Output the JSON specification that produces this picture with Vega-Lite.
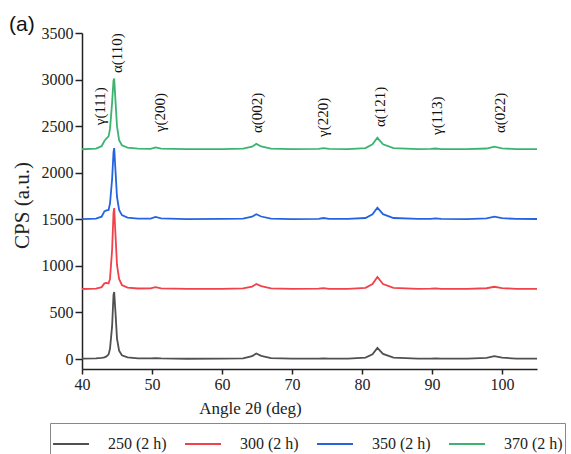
{
  "$schema": "https://vega.github.io/schema/vega-lite/v6.json",
  "autosize": {"type": "none"},
  "padding": {"left": 82, "top": 33, "right": 34, "bottom": 85},
  "width": 455,
  "height": 336,
  "background": "white",
  "title": {"text": "(a)", "anchor": "start", "frame": "group", "font": "Liberation Sans", "fontSize": 21, "fontWeight": "normal", "color": "#111", "baseline": "alphabetic", "dx": -73, "dy": 29, "offset": 2},
  "config": {
    "view": {"stroke": null},
    "axis": {"labelFont": "Liberation Serif", "labelFontSize": 16, "labelColor": "#222", "titleFont": "Liberation Serif", "titleFontWeight": "normal", "titleColor": "#222", "domainColor": "#222", "domainWidth": 1.5, "tickColor": "#222", "tickWidth": 1.5, "grid": false},
    "legend": {"strokeColor": "#888"}
  },
  "datasets": {
    "xrd": [
      {"angle": 40, "250 (2 h)": 5, "300 (2 h)": 752, "350 (2 h)": 1502, "370 (2 h)": 2252},
      {"angle": 42, "250 (2 h)": 8, "300 (2 h)": 756, "350 (2 h)": 1507, "370 (2 h)": 2258},
      {"angle": 42.8, "250 (2 h)": 12, "300 (2 h)": 772, "350 (2 h)": 1528, "370 (2 h)": 2285},
      {"angle": 43.2, "250 (2 h)": 18, "300 (2 h)": 812, "350 (2 h)": 1585, "370 (2 h)": 2340},
      {"angle": 43.5, "250 (2 h)": 28, "300 (2 h)": 818, "350 (2 h)": 1595, "370 (2 h)": 2370},
      {"angle": 43.8, "250 (2 h)": 50, "300 (2 h)": 812, "350 (2 h)": 1600, "370 (2 h)": 2390},
      {"angle": 44, "250 (2 h)": 110, "300 (2 h)": 860, "350 (2 h)": 1670, "370 (2 h)": 2470},
      {"angle": 44.3, "250 (2 h)": 350, "300 (2 h)": 1170, "350 (2 h)": 1930, "370 (2 h)": 2750},
      {"angle": 44.5, "250 (2 h)": 690, "300 (2 h)": 1570, "350 (2 h)": 2220, "370 (2 h)": 2990},
      {"angle": 44.6, "250 (2 h)": 720, "300 (2 h)": 1620, "350 (2 h)": 2265, "370 (2 h)": 3010},
      {"angle": 44.8, "250 (2 h)": 480, "300 (2 h)": 1310, "350 (2 h)": 2000, "370 (2 h)": 2750},
      {"angle": 45, "250 (2 h)": 220, "300 (2 h)": 1010, "350 (2 h)": 1740, "370 (2 h)": 2500},
      {"angle": 45.3, "250 (2 h)": 90, "300 (2 h)": 860, "350 (2 h)": 1600, "370 (2 h)": 2350},
      {"angle": 45.7, "250 (2 h)": 40, "300 (2 h)": 795, "350 (2 h)": 1545, "370 (2 h)": 2295},
      {"angle": 46.5, "250 (2 h)": 18, "300 (2 h)": 766, "350 (2 h)": 1518, "370 (2 h)": 2270},
      {"angle": 48, "250 (2 h)": 8, "300 (2 h)": 757, "350 (2 h)": 1508, "370 (2 h)": 2258},
      {"angle": 49.8, "250 (2 h)": 6, "300 (2 h)": 758, "350 (2 h)": 1507, "370 (2 h)": 2257},
      {"angle": 50.5, "250 (2 h)": 10, "300 (2 h)": 772, "350 (2 h)": 1525, "370 (2 h)": 2272},
      {"angle": 51.3, "250 (2 h)": 6, "300 (2 h)": 759, "350 (2 h)": 1509, "370 (2 h)": 2258},
      {"angle": 55, "250 (2 h)": 3, "300 (2 h)": 753, "350 (2 h)": 1503, "370 (2 h)": 2253},
      {"angle": 60, "250 (2 h)": 4, "300 (2 h)": 754, "350 (2 h)": 1504, "370 (2 h)": 2254},
      {"angle": 63, "250 (2 h)": 8, "300 (2 h)": 758, "350 (2 h)": 1508, "370 (2 h)": 2258},
      {"angle": 64.3, "250 (2 h)": 30, "300 (2 h)": 778, "350 (2 h)": 1528, "370 (2 h)": 2280},
      {"angle": 64.9, "250 (2 h)": 60, "300 (2 h)": 805, "350 (2 h)": 1555, "370 (2 h)": 2310},
      {"angle": 65.6, "250 (2 h)": 35, "300 (2 h)": 782, "350 (2 h)": 1530, "370 (2 h)": 2282},
      {"angle": 67, "250 (2 h)": 10, "300 (2 h)": 759, "350 (2 h)": 1508, "370 (2 h)": 2258},
      {"angle": 70, "250 (2 h)": 4, "300 (2 h)": 753, "350 (2 h)": 1503, "370 (2 h)": 2253},
      {"angle": 73.8, "250 (2 h)": 4, "300 (2 h)": 755, "350 (2 h)": 1505, "370 (2 h)": 2255},
      {"angle": 74.5, "250 (2 h)": 8, "300 (2 h)": 762, "350 (2 h)": 1514, "370 (2 h)": 2265},
      {"angle": 75.3, "250 (2 h)": 4, "300 (2 h)": 754, "350 (2 h)": 1505, "370 (2 h)": 2255},
      {"angle": 78, "250 (2 h)": 5, "300 (2 h)": 754, "350 (2 h)": 1504, "370 (2 h)": 2254},
      {"angle": 80.5, "250 (2 h)": 15, "300 (2 h)": 764, "350 (2 h)": 1514, "370 (2 h)": 2264},
      {"angle": 81.5, "250 (2 h)": 50, "300 (2 h)": 805, "350 (2 h)": 1555, "370 (2 h)": 2305},
      {"angle": 82.2, "250 (2 h)": 120, "300 (2 h)": 880, "350 (2 h)": 1625, "370 (2 h)": 2375},
      {"angle": 83, "250 (2 h)": 55, "300 (2 h)": 805, "350 (2 h)": 1555, "370 (2 h)": 2305},
      {"angle": 84.5, "250 (2 h)": 15, "300 (2 h)": 764, "350 (2 h)": 1514, "370 (2 h)": 2264},
      {"angle": 88, "250 (2 h)": 5, "300 (2 h)": 754, "350 (2 h)": 1504, "370 (2 h)": 2254},
      {"angle": 89.8, "250 (2 h)": 4, "300 (2 h)": 755, "350 (2 h)": 1505, "370 (2 h)": 2255},
      {"angle": 90.5, "250 (2 h)": 6, "300 (2 h)": 759, "350 (2 h)": 1510, "370 (2 h)": 2260},
      {"angle": 91.3, "250 (2 h)": 4, "300 (2 h)": 754, "350 (2 h)": 1504, "370 (2 h)": 2254},
      {"angle": 95, "250 (2 h)": 4, "300 (2 h)": 753, "350 (2 h)": 1503, "370 (2 h)": 2253},
      {"angle": 97.8, "250 (2 h)": 12, "300 (2 h)": 760, "350 (2 h)": 1510, "370 (2 h)": 2260},
      {"angle": 98.9, "250 (2 h)": 32, "300 (2 h)": 776, "350 (2 h)": 1528, "370 (2 h)": 2280},
      {"angle": 100, "250 (2 h)": 15, "300 (2 h)": 762, "350 (2 h)": 1512, "370 (2 h)": 2262},
      {"angle": 102, "250 (2 h)": 5, "300 (2 h)": 754, "350 (2 h)": 1504, "370 (2 h)": 2254},
      {"angle": 105, "250 (2 h)": 4, "300 (2 h)": 753, "350 (2 h)": 1503, "370 (2 h)": 2253}
    ],
    "peaks": [
      {"angle": 42.6, "cps": 2510, "label": "γ(111)"},
      {"angle": 45.0, "cps": 3070, "label": "α(110)"},
      {"angle": 51.1, "cps": 2437, "label": "γ(200)"},
      {"angle": 65.0, "cps": 2426, "label": "α(002)"},
      {"angle": 74.4, "cps": 2384, "label": "γ(220)"},
      {"angle": 82.6, "cps": 2491, "label": "α(121)"},
      {"angle": 90.7, "cps": 2405, "label": "γ(113)"},
      {"angle": 99.7, "cps": 2426, "label": "α(022)"}
    ]
  },
  "layer": [
    {
      "data": {"name": "xrd"},
      "transform": [{"fold": ["250 (2 h)", "300 (2 h)", "350 (2 h)", "370 (2 h)"], "as": ["series", "cps"]}],
      "mark": {"type": "line", "strokeWidth": 1.8, "clip": true},
      "encoding": {
        "x": {"field": "angle", "type": "quantitative",
              "scale": {"domain": [40, 105], "nice": false, "zero": false},
              "axis": {"values": [40, 45, 50, 55, 60, 65, 70, 75, 80, 85, 90, 95, 100, 105],
                       "format": "d",
                       "labelExpr": "datum.value % 10 ? '' : datum.label",
                       "labelFont": "Liberation Serif", "labelFontSize": 16,
                       "tickSize": {"condition": {"test": "datum.value % 10 !== 0", "value": 3}, "value": 5},
                       "labelPadding": 2, "labelFlush": false,
                       "title": "Angle  2θ (deg)", "titleFont": "Liberation Serif", "titleFontSize": 17,
                       "titleX": 168, "titleY": 44, "titleAlign": "center", "titleBaseline": "alphabetic"}},
        "y": {"field": "cps", "type": "quantitative",
              "scale": {"domain": [-107, 3500], "nice": false, "zero": false},
              "axis": {"values": [0, 250, 500, 750, 1000, 1250, 1500, 1750, 2000, 2250, 2500, 2750, 3000, 3250, 3500],
                       "format": "d",
                       "labelExpr": "datum.value % 500 ? '' : datum.label",
                       "labelFont": "Liberation Serif", "labelFontSize": 16,
                       "tickSize": {"condition": {"test": "datum.value % 500 !== 0", "value": 4}, "value": 7},
                       "labelPadding": 2, "labelFlush": false,
                       "title": "CPS (a.u.)", "titleFont": "Liberation Serif", "titleFontSize": 21,
                       "titleX": -54, "titleY": 172, "titleAngle": 270, "titleAlign": "center", "titleBaseline": "alphabetic"}},
        "color": {"field": "series", "type": "nominal",
                  "scale": {"domain": ["250 (2 h)", "300 (2 h)", "350 (2 h)", "370 (2 h)"], "range": ["#505050", "#f0424a", "#2563e0", "#3cb371"]},
                  "legend": {"title": null, "orient": "none", "legendX": -32, "legendY": 390, "direction": "horizontal",
                             "symbolType": "stroke", "symbolSize": 1296, "symbolStrokeWidth": 2,
                             "labelFont": "Liberation Serif", "labelFontSize": 16, "labelColor": "#222",
                             "labelOffset": 18, "columnPadding": 14, "padding": 2}}
      }
    },
    {
      "data": {"name": "peaks"},
      "mark": {"type": "text", "angle": 270, "align": "left", "baseline": "middle", "font": "Liberation Serif", "fontSize": 15, "color": "#111"},
      "encoding": {
        "x": {"field": "angle", "type": "quantitative"},
        "y": {"field": "cps", "type": "quantitative"},
        "text": {"field": "label", "type": "nominal"}
      }
    }
  ]
}
